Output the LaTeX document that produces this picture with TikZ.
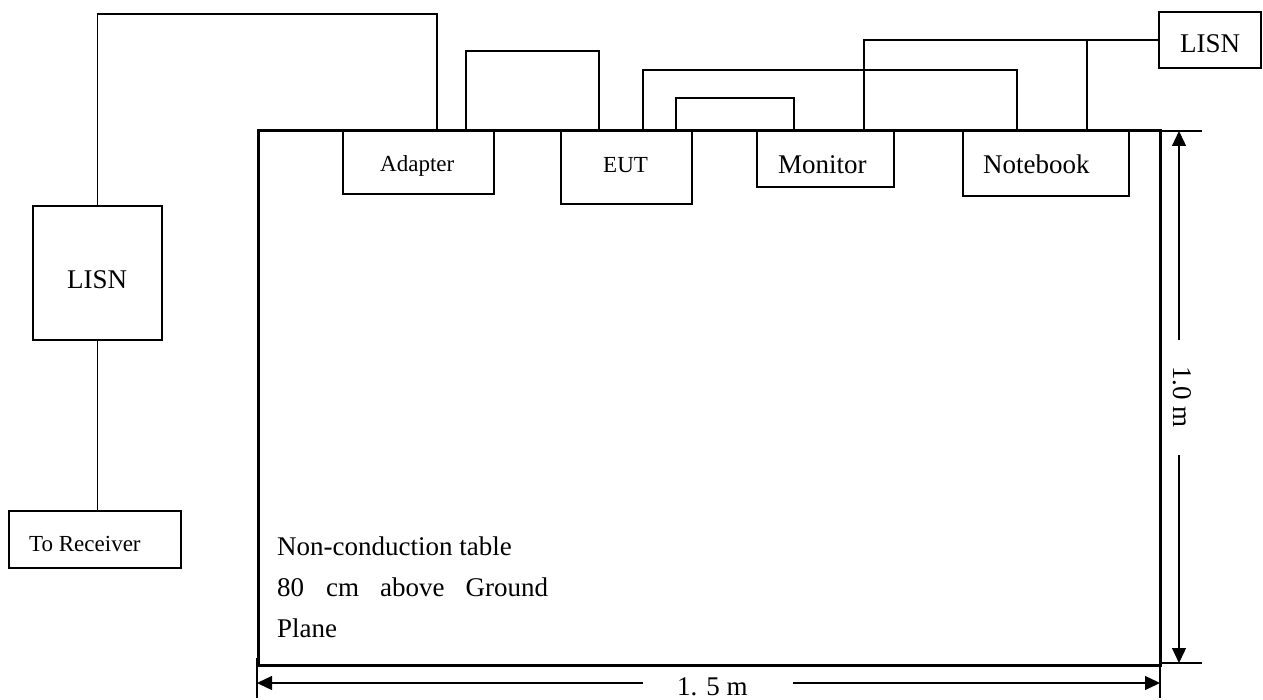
\documentclass[tikz,border=0pt]{standalone}
\usepackage{fontspec}
\setmainfont{Liberation Serif}
\usetikzlibrary{arrows.meta,calc}
\begin{document}
\begin{tikzpicture}[x=1pt,y=-1pt,
  box/.style={draw,line width=1.6pt,inner sep=0pt,outer sep=0pt,anchor=north west},
  tablebox/.style={draw,line width=3pt,inner sep=0pt,outer sep=0pt,anchor=north west},
  wire/.style={line width=1.6pt},
  dimline/.style={line width=1.3pt},
  dimarrow/.style={line width=1.3pt},
  tip/.tip={Triangle[length=15pt,width=14pt]},
  small/.style={inner sep=0pt,anchor=base west,font=\fontsize{23}{27}\selectfont},
  big/.style={inner sep=0pt,anchor=base west,font=\fontsize{27}{32}\selectfont}]
\useasboundingbox (0,0) rectangle (1263,700);

% boxes
\node[box,minimum width=129pt,minimum height=134pt] (lisnL) at (33,206) {};
\node[box,minimum width=172pt,minimum height=57pt] (recv) at (9,511) {};
\node[box,minimum width=151pt,minimum height=63pt] (adapter) at (343,131) {};
\node[box,minimum width=131pt,minimum height=73pt] (eut) at (561,131) {};
\node[box,minimum width=137pt,minimum height=56pt] (monitor) at (757,131) {};
\node[box,minimum width=166pt,minimum height=65pt] (notebook) at (963,131) {};
\node[box,minimum width=102pt,minimum height=56pt] (lisnR) at (1159,12) {};
\node[tablebox,minimum width=902pt,minimum height=534pt] (table) at (258,131) {};

% texts
\node[big] (tLisnL) at (67,289) {LISN};
\node[small] (tRecv) at (29,551) {To Receiver};
\node[small] (tAdapter) at (380,172) {Adapter};
\node[small] (tEut) at (603,173) {EUT};
\node[big] (tMonitor) at (778,174) {Monitor};
\node[big] (tNotebook) at (983,174) {Notebook};
\node[big] (tLisnR) at (1180,53) {LISN};
\node[big] (tTable1) at (277,555) {Non-conduction table};
\node[big] (tTable2) at (277,596) {80\hspace{22pt}cm\hspace{21pt}above\hspace{21pt}Ground};
\node[big] (tTable3) at (277,637) {Plane};

% wire bend points
\coordinate (k1) at (437,14);
\coordinate (k2) at (466,51);
\coordinate (k3) at (599,51);
\coordinate (k4) at (643,70);
\coordinate (k5) at (1017,70);
\coordinate (k6) at (676,98);
\coordinate (k7) at (794,98);
\coordinate (k8) at (864,40);
\coordinate (k9) at (1087,40);

% wires
\draw[wire] (lisnL.north) |- (k1) -- (k1 |- adapter.north);
\draw[wire] (lisnL.south) -- (lisnL.south |- recv.north);
\draw[wire] (k2 |- adapter.north) -- (k2) -- (k3) -- (k3 |- eut.north);
\draw[wire] (k4 |- eut.north) -- (k4) -- (k5) -- (k5 |- notebook.north);
\draw[wire] (k6 |- eut.north) -- (k6) -- (k7) -- (k7 |- monitor.north);
\draw[wire] (lisnR.west) -- (k8) -- (k8 |- monitor.north);
\draw[wire] (k9) -- (k9 |- notebook.north);

% right dimension
\coordinate (rt) at (1202,0);
\coordinate (ra) at (1179,0);
\coordinate (rg1) at (1179,340);
\coordinate (rg2) at (1179,455);
\draw[dimline] (table.north east) -- (table.north east -| rt);
\coordinate (rb) at (1160,663);
\draw[dimline] (rb) -- (rb -| rt);
\draw[dimarrow,{tip}-] (ra |- table.north) -- (rg1);
\draw[dimarrow,-{tip}] (rg2) -- (ra |- rb);
\node[inner sep=0pt,rotate=-90,font=\fontsize{27}{32}\selectfont] (tDimV) at (1182,397) {1.0 m};

% bottom dimension
\coordinate (bl1) at (257,658);
\coordinate (bl2) at (257,698);
\coordinate (br1) at (1160,663);
\coordinate (br2) at (1160,698);
\draw[dimline] (bl1) -- (bl2);
\draw[dimline] (br1) -- (br2);
\coordinate (ba) at (0,683);
\coordinate (bg1) at (643,683);
\coordinate (bg2) at (793,683);
\draw[dimarrow,{tip}-] (ba -| bl1) -- (bg1);
\draw[dimarrow,-{tip}] (bg2) -- (ba -| br1);
\node[big] (tDimH) at (677,695) {1. 5 m};
\end{tikzpicture}
\end{document}
